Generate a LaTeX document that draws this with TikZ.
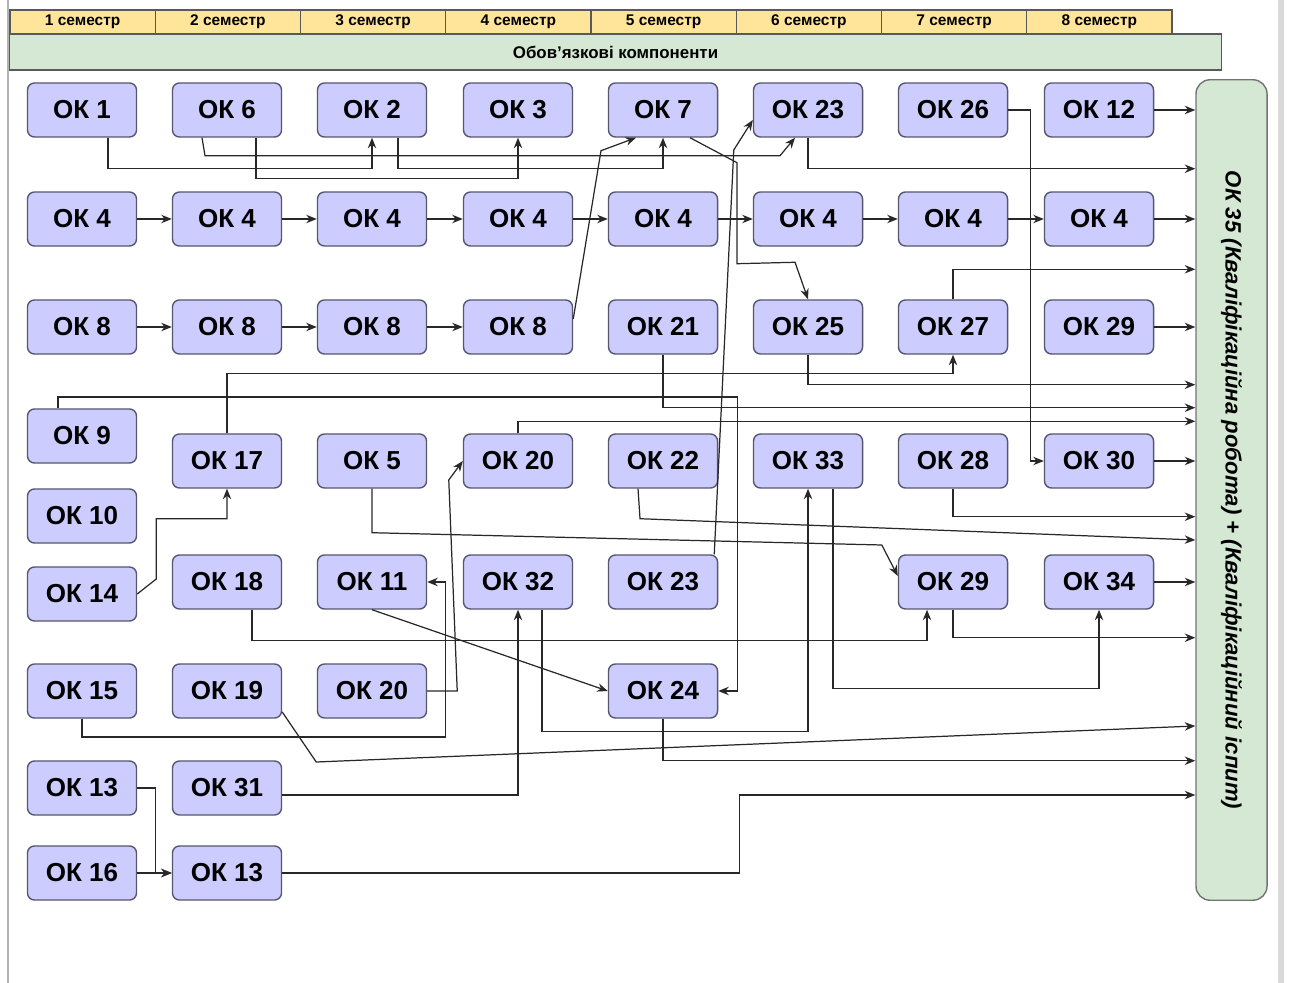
\documentclass[tikz,border=0pt]{standalone}
\usepackage{fontspec}
\setmainfont{Liberation Sans}
\usepackage{tikz}
\usetikzlibrary{arrows.meta}
\usetikzlibrary{calc}
\definecolor{okfill}{RGB}{204,204,255}
\definecolor{okline}{RGB}{86,86,110}
\definecolor{semfill}{RGB}{255,229,153}
\definecolor{greenfill}{RGB}{213,232,212}
\definecolor{wireline}{RGB}{40,40,40}
\tikzset{
    ok/.style={draw=okline, fill=okfill, line width=0.4pt, rounded corners=2pt, inner sep=0pt,
        minimum width=1.09cm, minimum height=0.54cm, font=\bfseries\fontsize{7.4}{8}\selectfont},
    sem/.style={draw=black!65, fill=semfill, line width=0.35pt, inner sep=0pt,
        minimum width=1.4525cm, minimum height=0.24cm, font=\bfseries\fontsize{4.4}{5}\selectfont},
    bar/.style={draw=black!65, fill=greenfill, line width=0.35pt, inner sep=0pt,
        minimum width=12.11cm, minimum height=0.36cm, font=\bfseries\fontsize{4.8}{5}\selectfont},
    final/.style={draw=black!55, fill=greenfill, line width=0.4pt, rounded corners=4pt, inner sep=0pt,
        minimum width=0.71cm, minimum height=8.2cm, font=\bfseries\itshape\fontsize{6.3}{7}\selectfont},
    conn/.style={draw=wireline, line width=0.35pt, -{Stealth[length=3pt,width=2.4pt]}}
}
\begin{document}
\begin{tikzpicture}[x=0.01cm, y=-0.01cm]
        \useasboundingbox (0,0) rectangle (1298,983);
        \draw[black!30, line width=0.6pt] (8,0) -- (8,983);
        \draw[black!15, line width=1.6pt] (1281,0) -- (1281,983);

        \foreach \i in {1,...,8}
        {
            \node[sem] (sem\i) at ({10+145.25*(\i-0.5)},22) {\i\ семестр};
        }
        \node[bar] (oblig) at (615.5,52) {Обов'язкові компоненти};
        \node[final] (ok35) at (1231.5,490) {\rotatebox{-90}{ОК 35 (Кваліфікаційна робота) + (Кваліфікаційний іспит)}};

        \node[ok] (ok1) at (82,110) {ОК 1};
        \node[ok] (ok6) at (227,110) {ОК 6};
        \node[ok] (ok2) at (372,110) {ОК 2};
        \node[ok] (ok3) at (518,110) {ОК 3};
        \node[ok] (ok7) at (663,110) {ОК 7};
        \node[ok] (ok23a) at (808,110) {ОК 23};
        \node[ok] (ok26) at (953,110) {ОК 26};
        \node[ok] (ok12) at (1099,110) {ОК 12};
        \foreach \c/\x in {a/82,b/227,c/372,d/518,e/663,f/808,g/953,h/1099}
        {
            \node[ok] (ok4\c) at (\x,219) {ОК 4};
        }
        \foreach \c/\x in {a/82,b/227,c/372,d/518}
        {
            \node[ok] (ok8\c) at (\x,327) {ОК 8};
        }
        \node[ok] (ok21) at (663,327) {ОК 21};
        \node[ok] (ok25) at (808,327) {ОК 25};
        \node[ok] (ok27) at (953,327) {ОК 27};
        \node[ok] (ok29a) at (1099,327) {ОК 29};
        \node[ok] (ok9) at (82,436) {ОК 9};
        \node[ok] (ok17) at (227,461) {ОК 17};
        \node[ok] (ok5) at (372,461) {ОК 5};
        \node[ok] (ok20b) at (518,461) {ОК 20};
        \node[ok] (ok22) at (663,461) {ОК 22};
        \node[ok] (ok33) at (808,461) {ОК 33};
        \node[ok] (ok28) at (953,461) {ОК 28};
        \node[ok] (ok30) at (1099,461) {ОК 30};
        \node[ok] (ok10) at (82,516) {ОК 10};
        \node[ok] (ok14) at (82,594) {ОК 14};
        \node[ok] (ok18) at (227,582) {ОК 18};
        \node[ok] (ok11) at (372,582) {ОК 11};
        \node[ok] (ok32) at (518,582) {ОК 32};
        \node[ok] (ok23b) at (663,582) {ОК 23};
        \node[ok] (ok29b) at (953,582) {ОК 29};
        \node[ok] (ok34) at (1099,582) {ОК 34};
        \node[ok] (ok15) at (82,691) {ОК 15};
        \node[ok] (ok19) at (227,691) {ОК 19};
        \node[ok] (ok20a) at (372,691) {ОК 20};
        \node[ok] (ok24) at (663,691) {ОК 24};
        \node[ok] (ok13a) at (82,788) {ОК 13};
        \node[ok] (ok31) at (227,788) {ОК 31};
        \node[ok] (ok16) at (82,873) {ОК 16};
        \node[ok] (ok13b) at (227,873) {ОК 13};

        \foreach \a/\b in {a/b,b/c,c/d,d/e,e/f,f/g,g/h}
        {
            \draw[conn] (ok4\a) -- (ok4\b);
        }
        \foreach \a/\b in {a/b,b/c,c/d}
        {
            \draw[conn] (ok8\a) -- (ok8\b);
        }
        \foreach \n in {ok12,ok4h,ok29a,ok30,ok34}
        {
            \draw[conn] (\n) -- (\n -| ok35.west);
        }

        \draw[conn] ($(ok1.south)+(26,0)$) |- ($(ok2.south)+(0,31)$) -- (ok2.south);
        \draw[conn] ($(ok6.south)+(-25,0)$) -- ++(3,18) -- ($(ok23a.south)+(-28,18)$) -- ($(ok23a.south)+(-13,0)$);
        \draw[conn] ($(ok6.south)+(29,0)$) |- ($(ok3.south)+(0,41)$) -- (ok3.south);
        \draw[conn] ($(ok2.south)+(26,0)$) |- ($(ok7.south)+(0,31)$) -- (ok7.south);
        \draw[conn] ($(ok8d.east)+(0,-8)$) -- ($(ok7.south)+(-62,13)$) -- ($(ok7.south)+(-27,0)$);
        \draw[conn] ($(ok7.south)+(27,0)$) -- ($(ok7.south)+(74,25)$) -- ($(ok7.south)+(74,126)$) -- ($(ok25.north)+(-13,-37)$) -- (ok25.north);
        \draw[conn] (ok23a.south) -- ++(0,31) coordinate (t) -- (t -| ok35.west);
        \draw[conn] (ok26.east) -- ++(22,0) |- (ok30.west);
        \draw[conn] (ok27.north) -- ++(0,-30) coordinate (t) -- (t -| ok35.west);
        \draw[conn] (ok17.north) |- ($(ok27.south)+(0,19)$) -- (ok27.south);
        \draw[conn] (ok25.south) -- ++(0,30) coordinate (t) -- (t -| ok35.west);
        \draw[conn] ($(ok9.north)+(-24,0)$) |- ($(ok24.east)+(19,-294)$) |- (ok24.east);
        \draw[conn] (ok21.south) -- ++(0,53) coordinate (t) -- (t -| ok35.west);
        \draw[conn] (ok20b.north) -- ++(0,-12) coordinate (t) -- (t -| ok35.west);
        \draw[conn] (ok14.east) -- ++(19,-15) |- ($(ok17.south)+(0,30)$) -- (ok17.south);
        \draw[conn] (ok5.south) -- ++(0,44) -- ($(ok29b.west)+(-16,-37)$) -- ($(ok29b.west)+(0,-6)$);
        \draw[conn] ($(ok22.south)+(-25,0)$) -- ++(2,30) -- ($(ok35.west)+(0,50)$);
        \draw[conn] (ok15.south) |- ($(ok11.east)+(18,155)$) -- ($(ok11.east)+(18,0)$) -- (ok11.east);
        \draw[conn] (ok20a.east) -- ++(30,0) -- ($(ok20b.west)+(-14,19)$) -- (ok20b.west);
        \draw[conn] ($(ok18.south)+(25,0)$) |- ($(ok29b.south)+(-26,31)$) -- ($(ok29b.south)+(-26,0)$);
        \draw[conn] (ok11.south) -- (ok24.west);
        \draw[conn] ($(ok31.east)+(0,7)$) -| (ok32.south);
        \draw[conn] ($(ok32.south)+(24,0)$) |- ($(ok33.south)+(0,243)$) -- (ok33.south);
        \draw[conn] ($(ok23b.north east)+(-4,0)$) -- ($(ok23a.west)+(-19,40)$) -- ($(ok23a.west)+(0,10)$);
        \draw[conn] ($(ok33.south)+(25,0)$) |- ($(ok34.south)+(0,79)$) -- (ok34.south);
        \draw[conn] (ok29b.south) -- ++(0,28) coordinate (t) -- (t -| ok35.west);
        \draw[conn] (ok28.south) -- ++(0,28) coordinate (t) -- (t -| ok35.west);
        \draw[conn] ($(ok19.east)+(0,21)$) -- ($(ok19.east)+(34,71)$) -- ($(ok35.west)+(0,236)$);
        \draw[conn] (ok24.south) -- ++(0,42) coordinate (t) -- (t -| ok35.west);
        \draw[conn] (ok13b.east) -| ($(ok35.west)+(-456,305)$) -- ($(ok35.west)+(0,305)$);
        \draw[conn] (ok13a.east) -- ++(18,0) |- (ok13b.west);
        \draw[conn] (ok16) -- (ok13b);
    \end{tikzpicture}
\end{document}
